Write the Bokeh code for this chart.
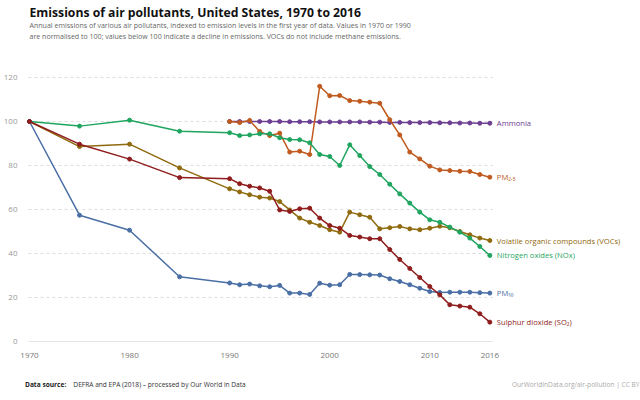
from bokeh.plotting import figure
from bokeh.models import FixedTicker, Range1d, ColumnDataSource
from bokeh.layouts import column
from bokeh.core.properties import value
from bokeh.embed import file_html
from bokeh.resources import INLINE

FONT = "Open Sans"

years_long = [1970, 1975, 1980, 1985] + list(range(1990, 2017))
years_short = list(range(1990, 2017))

so2 = [100, 89.7, 82.9, 74.5, 74.0, 71.7, 70.6, 69.8, 68.3, 59.8, 59.1, 60.3, 60.6,
       56.1, 52.7, 51.5, 48.2, 47.5, 46.7, 46.7, 41.8, 37.3, 33.2, 29.1, 25.0, 21.2,
       16.7, 16.1, 15.6, 12.6, 8.8]
nox = [100, 97.9, 100.6, 95.6, 94.9, 93.6, 93.9, 94.4, 94.4, 92.6, 91.8, 91.7, 90.3,
       85.0, 84.1, 80.0, 89.4, 84.5, 79.5, 75.9, 71.5, 67.1, 62.9, 58.8, 55.3, 54.2,
       52.0, 49.7, 47.0, 43.2, 39.1]
voc = [100, 88.6, 89.7, 78.9, 69.4, 68.0, 66.7, 65.6, 65.2, 63.6, 59.8, 56.1, 54.2,
       52.7, 50.8, 49.7, 58.8, 57.6, 56.5, 51.2, 51.7, 52.3, 51.2, 50.8, 51.5, 52.4,
       51.7, 50.0, 48.5, 47.0, 45.9]
pm10 = [100, 57.4, 50.6, 29.4, 26.6, 25.8, 26.1, 25.3, 24.9, 25.5, 22.0, 22.0, 21.4,
        26.5, 25.6, 25.8, 30.5, 30.4, 30.3, 30.2, 28.5, 27.3, 25.8, 24.2, 22.7, 22.3,
        22.4, 22.4, 22.4, 22.2, 22.0]
pm25 = [100, 99.5, 100.5, 95.5, 93.6, 94.7, 86.1, 86.5, 85.0, 116.0, 111.7, 111.8,
        109.5, 109.2, 108.8, 108.3, 100.8, 93.9, 86.1, 83.0, 79.7, 78.0, 77.7, 77.4,
        77.3, 75.9, 74.7]
ammonia = [100, 100, 100, 100, 100, 100, 99.9, 99.9, 99.9, 99.8, 99.8, 99.8, 99.8,
           99.8, 99.7, 99.7, 99.6, 99.6, 99.5, 99.5, 99.5, 99.4, 99.4, 99.3, 99.3,
           99.2, 99.2]

names = ["Ammonia", "PM₂.₅", "Volatile organic compounds (VOCs)",
         "Nitrogen oxides (NOx)", "PM₁₀", "Sulphur dioxide (SO₂)"]
colors = ["#6D3E91", "#C05A1E", "#8F6A0E", "#1FA55F", "#4A6FA5", "#8F1D1D"]
xs_all = [years_short, years_short, years_long, years_long, years_long, years_long]
ys_all = [ammonia, pm25, voc, nox, pm10, so2]

x_ticks = [1970, 1980, 1990, 2000, 2010, 2016]
y_ticks = [0, 20, 40, 60, 80, 100, 120]

TITLE = "Emissions of air pollutants, United States, 1970 to 2016"
SUB1 = ("Annual emissions of various air pollutants, indexed to emission levels in the "
        "first year of data. Values in 1970 or 1990")
SUB2 = ("are normalised to 100; values below 100 indicate a decline in emissions. VOCs do "
        "not include methane emissions.")
SRC_LABEL = "Data source:"
SRC_TEXT = "DEFRA and EPA (2018) – processed by Our World in Data"
URL = "OurWorldInData.org/air-pollution | CC BY"

FRAME_LEFT = 22

# ---------- main chart ----------
px_per_year = 10.04
px_per_unit = 2.2
x_lo = 1970 - (27 - FRAME_LEFT) / px_per_year   # 1970 sits at x = 27 px
frame_w = 640 - FRAME_LEFT
frame_h = 341
x_hi = x_lo + frame_w / px_per_year
y_hi = frame_h / px_per_unit

p = figure(width=640, height=368, output_backend="svg", toolbar_location=None,
           x_range=Range1d(x_lo, x_hi), y_range=Range1d(0, y_hi),
           min_border_left=FRAME_LEFT, min_border_right=0, min_border_top=0,
           min_border_bottom=27, background_fill_color="white",
           border_fill_color="white")
p.outline_line_color = None
p.xgrid.grid_line_color = None
p.ygrid.grid_line_color = None

p.xaxis.ticker = FixedTicker(ticks=x_ticks)
p.xaxis.axis_line_color = None
p.xaxis.major_tick_line_color = None
p.xaxis.minor_tick_line_color = None
p.xaxis.major_label_text_font = FONT
p.xaxis.major_label_text_font_size = "8px"
p.xaxis.major_label_text_color = "#777777"
p.xaxis.major_label_standoff = 5

p.yaxis.ticker = FixedTicker(ticks=y_ticks)
p.yaxis.axis_line_color = None
p.yaxis.major_tick_line_color = None
p.yaxis.minor_tick_line_color = None
p.yaxis.major_label_text_font = FONT
p.yaxis.major_label_text_font_size = "8px"
p.yaxis.major_label_text_color = "#999999"
p.yaxis.major_label_standoff = 1

g_x0 = min(years_long) - 0.1
g_x1 = max(years_long) + 0.3
grid_y = y_ticks[1:]
p.segment(x0=[g_x0] * len(grid_y), y0=grid_y, x1=[g_x1] * len(grid_y), y1=grid_y,
          line_color="#dddddd", line_width=1, line_dash="3 3")
p.segment(x0=[g_x0], y0=[y_ticks[0]], x1=[g_x1], y1=[y_ticks[0]],
          line_color="#cccccc", line_width=1)

for xs, ys, col in zip(xs_all, ys_all, colors):
    p.line(xs, ys, line_color=col, line_width=1.5)
    p.scatter(xs, ys, size=4, fill_color=col, line_color=col)

lab = ColumnDataSource(dict(x=[xs[-1] for xs in xs_all], y=[ys[-1] for ys in ys_all],
                            text=names, color=colors))
p.text(x="x", y="y", text="text", text_color="color", source=lab, x_offset=7,
       text_baseline="middle", text_align="left", text_font=value(FONT),
       text_font_size="7.6px")

p.text(x=[x_lo], y=[y_hi], text=[TITLE], x_offset=27 - FRAME_LEFT, y_offset=12,
       text_baseline="middle", text_font=value(FONT), text_font_size="12.2px",
       text_font_style="bold", text_color="#111111")
p.text(x=[x_lo, x_lo], y=[y_hi, y_hi], text=[SUB1, SUB2], x_offset=27 - FRAME_LEFT,
       y_offset=[24, 35], text_baseline="middle", text_font=value(FONT),
       text_font_size="7.05px", text_color="#666666")

# ---------- footer (its frame is aligned with the chart frame) ----------
f = figure(width=640, height=32, output_backend="svg", toolbar_location=None,
           x_range=Range1d(FRAME_LEFT, 640), y_range=Range1d(0, 32),
           x_axis_location=None, y_axis_location=None,
           min_border_left=FRAME_LEFT, min_border_right=0, min_border_top=0,
           min_border_bottom=0,
           background_fill_color="white", border_fill_color="white")
f.outline_line_color = None
f.grid.grid_line_color = None
f.text(x=[22.5], y=[16], text=[SRC_LABEL], text_baseline="middle", text_font=value(FONT),
       text_font_size="6.6px", text_font_style="bold", text_color="#222222")
f.text(x=[71], y=[16], text=[SRC_TEXT], text_baseline="middle", text_font=value(FONT),
       text_font_size="6.6px", text_color="#333333")
f.text(x=[639], y=[16], text=[URL], text_baseline="middle", text_align="right",
       text_font=value(FONT), text_font_size="6.6px", text_color="#aaaaaa")

layout = column(p, f, spacing=0)
open("out.html", "w").write(file_html(layout, INLINE))
